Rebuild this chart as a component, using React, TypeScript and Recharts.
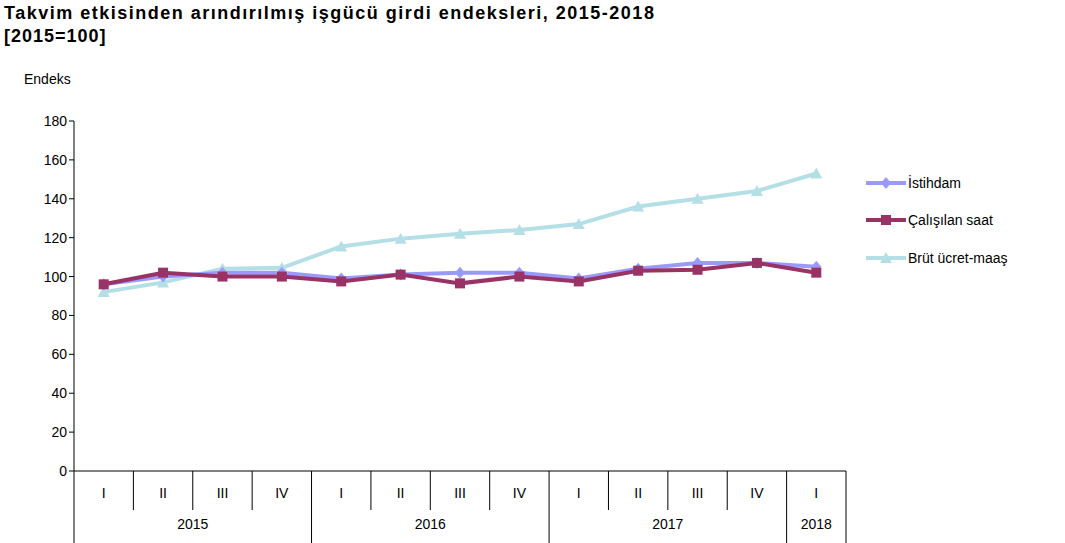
import React from 'react';
import { LineChart, Line, XAxis, YAxis } from 'recharts';

const quarters = ['I', 'II', 'III', 'IV', 'I', 'II', 'III', 'IV', 'I', 'II', 'III', 'IV', 'I'];
const years = ['2015', '2016', '2017', '2018'];
const istihdam = [96, 100, 102, 102, 99, 101, 102, 102, 99, 104, 107, 107, 105];
const calisilanSaat = [96, 102, 100, 100, 97.5, 101, 96.5, 100, 97.5, 103, 103.5, 107, 102];
const brutUcret = [92, 97, 104, 104.5, 115.5, 119.5, 122, 124, 127, 136, 140, 144, 153];
const yTicks = [0, 20, 40, 60, 80, 100, 120, 140, 160, 180];

const data = quarters.map((q, i) => ({ q, i, ist: istihdam[i], cal: calisilanSaat[i], brut: brutUcret[i] }));

const C_IST = '#9999ff';
const C_CAL = '#993366';
const C_BRUT = '#b4dfe6';
const FONT = '"Liberation Sans", Arial, sans-serif';

const Diamond = (p: any) => (
  <path key={p.index} d={`M${p.cx},${p.cy - 6}L${p.cx + 5},${p.cy}L${p.cx},${p.cy + 6}L${p.cx - 5},${p.cy}Z`} fill={C_IST} />
);
const Square = (p: any) => (
  <rect key={p.index} x={p.cx - 5} y={p.cy - 5} width={10} height={10} fill={C_CAL} />
);
const Triangle = (p: any) => (
  <path key={p.index} d={`M${p.cx},${p.cy - 6}L${p.cx + 6},${p.cy + 5}L${p.cx - 6},${p.cy + 5}Z`} fill={C_BRUT} />
);

const BAND = (846 - 74) / 13;
const BASE = 471;

const XTick = (props: any) => {
  const { x, payload } = props;
  const i = payload.index;
  const left = x - BAND / 2;
  const yearIdx = Math.floor(i / 4);
  return (
    <g>
      <line x1={left} y1={BASE} x2={left} y2={i % 4 === 0 ? 543 : 510} stroke="#000" />
      {i === 12 && <line x1={x + BAND / 2} y1={BASE} x2={x + BAND / 2} y2={543} stroke="#000" />}
      <text x={x} y={BASE + 27} textAnchor="middle" fontSize={14} fontFamily={FONT} fill="#000">{payload.value}</text>
      {(i % 4 === 1 || i === 12) && (
        <text x={i === 12 ? x : x + BAND / 2} y={BASE + 58} textAnchor="middle" fontSize={14} fontFamily={FONT} fill="#000">
          {years[yearIdx]}
        </text>
      )}
    </g>
  );
};

const legend = [
  { label: 'İstihdam', color: C_IST, y: 183, shape: 'd' },
  { label: 'Çalışılan saat', color: C_CAL, y: 220, shape: 's' },
  { label: 'Brüt ücret-maaş', color: C_BRUT, y: 258, shape: 't' },
];

export default function App() {
  return (
    <div style={{ position: 'fixed', left: 0, top: 0, width: 1065, height: 543, background: '#fff', fontFamily: FONT }}>
      <div style={{ position: 'absolute', left: 4, top: 2, fontSize: 18, fontWeight: 'bold', lineHeight: '23px' }}>
        <div style={{ letterSpacing: 1.5 }}>Takvim etkisinden arındırılmış işgücü girdi endeksleri, 2015-2018</div>
        <div style={{ letterSpacing: 1 }}>[2015=100]</div>
      </div>
      <div style={{ position: 'absolute', left: 24, top: 71, fontSize: 14 }}>Endeks</div>
      <LineChart width={1065} height={543} data={data} margin={{ top: 121, right: 219, bottom: 0, left: 34 }}>
        <XAxis dataKey="q" interval={0} height={72} tick={<XTick />} tickLine={false} axisLine={{ stroke: '#000' }}
          padding={{ left: BAND / 2, right: BAND / 2 }} />
        <YAxis domain={[0, 180]} ticks={yTicks} width={40} interval={0} tickSize={5}
          tick={{ fontSize: 14, fontFamily: FONT, fill: '#000' }} axisLine={{ stroke: '#000' }} tickLine={{ stroke: '#000' }} />
        <Line dataKey="brut" stroke={C_BRUT} strokeWidth={4} dot={Triangle} isAnimationActive={false} />
        <Line dataKey="ist" stroke={C_IST} strokeWidth={4} dot={Diamond} isAnimationActive={false} />
        <Line dataKey="cal" stroke={C_CAL} strokeWidth={4} dot={Square} isAnimationActive={false} />
      </LineChart>
      {legend.map((l) => (
        <div key={l.label} style={{ position: 'absolute', left: 866, top: l.y - 9, height: 18, display: 'flex', alignItems: 'center', fontSize: 14 }}>
          <svg width={40} height={18}>
            <line x1={0} y1={9} x2={40} y2={9} stroke={l.color} strokeWidth={4} />
            {l.shape === 'd' && <path d="M20,3L25,9L20,15L15,9Z" fill={l.color} />}
            {l.shape === 's' && <rect x={15} y={4} width={10} height={10} fill={l.color} />}
            {l.shape === 't' && <path d="M20,3L26,14L14,14Z" fill={l.color} />}
          </svg>
          <span style={{ marginLeft: 2 }}>{l.label}</span>
        </div>
      ))}
    </div>
  );
}
